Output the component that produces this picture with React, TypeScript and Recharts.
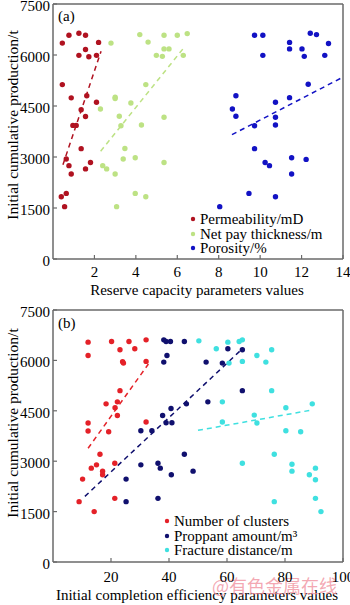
import React from 'react';
import { ScatterChart, Scatter, XAxis, YAxis, ReferenceLine, Legend } from 'recharts';

const FONT = '"Liberation Serif", "Times New Roman", serif';
const AXIS = '#6a6a6a';

// ---- Panel (a): reserve capacity parameters ----
const aXTicks = [2, 4, 6, 8, 10, 12, 14];
const yTicks = [0, 1500, 3000, 4500, 6000, 7500];

const permeability: [number, number][] = [
  [0.45, 6350], [0.77, 6580], [1.25, 6640], [1.57, 6580], [1.57, 6160], [1.25, 5990], [1.73, 5950],
  [2.1, 5990], [2.2, 6370], [0.45, 5130], [0.88, 4740], [1.63, 4800], [2.1, 4610], [1.36, 4390],
  [1.57, 4190], [0.96, 3930], [1.12, 3930], [1.36, 3245], [0.64, 2940], [0.77, 2745], [0.88, 2500],
  [1.57, 2650], [1.81, 2840], [0.4, 1830], [0.64, 1930], [0.56, 1540],
];
const netPay: [number, number][] = [
  [2.8, 6350], [4.19, 6600], [4.59, 6380], [5.36, 6580], [5.36, 6180], [5.6, 6180], [4.99, 5990],
  [5.28, 5960], [6.0, 6580], [6.48, 6630], [6.29, 5990], [3.0, 4760], [3.0, 4720], [2.29, 4410],
  [3.76, 4590], [4.48, 5130], [3.2, 4200], [3.28, 3920], [4.27, 3940], [5.36, 4170], [3.47, 3250],
  [3.39, 2940], [3.97, 2980], [5.36, 2840], [2.4, 2745], [2.59, 2650], [3.0, 2500], [3.97, 1930],
  [4.48, 1830], [3.07, 1540],
];
const porosity: [number, number][] = [
  [9.73, 6580], [10.13, 6580], [10.13, 5990], [11.42, 6370], [11.42, 6180], [12.02, 6180], [12.13, 5960],
  [12.42, 6640], [12.72, 6600], [13.3, 6340], [13.12, 5990], [12.32, 5140], [8.83, 4800], [11.42, 4745],
  [10.74, 4610], [8.66, 4410], [8.83, 4200], [10.74, 4170], [10.74, 3940], [9.73, 3920], [9.73, 3245],
  [10.24, 2840], [10.45, 2745], [11.52, 2980], [12.22, 2930], [11.52, 2500], [9.46, 1930], [10.74, 1830],
  [8.05, 1540],
];
const permTrend: [number, number][] = [[0.48, 2775], [2.32, 6108]];
const netPayTrend: [number, number][] = [[2.3, 3170], [6.3, 6200]];
const porosityTrend: [number, number][] = [[8.64, 3657], [14, 5350]];

// ---- Panel (b): completion efficiency parameters ----
const bXTicks = [20, 40, 60, 80, 100];
const clusters: [number, number][] = [
  [12.1, 6543], [12.1, 6148], [20.2, 6563], [23.1, 6316], [26.2, 6563], [28.2, 6345], [32.1, 6612],
  [32.1, 5970], [24.0, 5960], [24.3, 5920], [23.1, 5100], [18.3, 4707], [22.2, 4767], [21.4, 4590],
  [22.2, 4362], [12.1, 4135], [12.1, 3898], [19.2, 3878], [32.1, 4165], [16.2, 3207], [15.0, 2892],
  [13.2, 2793], [17.1, 2704], [17.1, 2595], [21.3, 2941], [10.2, 2467], [9.0, 1796], [21.3, 1895],
  [14.2, 1500],
];
const proppant: [number, number][] = [
  [38.2, 6612], [39.0, 6563], [40.5, 6563], [39.3, 6148], [38.2, 5950], [40.7, 4570], [37.8, 4362],
  [39.0, 4145], [41.0, 4145], [34.1, 3908], [30.3, 3908], [30.3, 2892], [36.2, 2941], [37.0, 2793],
  [40.8, 2595], [25.2, 2467], [25.2, 1796], [36.2, 1895], [45.3, 6563], [60.3, 6345], [65.3, 6316],
  [52.8, 5950], [58.4, 5920], [65.3, 5100], [46.0, 4707], [53.4, 4767], [45.3, 3207], [48.3, 2704],
];
const fracture: [number, number][] = [
  [50.3, 6582], [56.3, 6345], [60.3, 6543], [64.2, 6563], [65.3, 6612], [75.4, 6316], [70.3, 6148],
  [73.4, 5950], [65.3, 5970], [60.7, 5920], [58.4, 4767], [75.4, 5100], [69.4, 4372], [70.3, 4135],
  [58.4, 4165], [80.3, 4590], [89.4, 4707], [80.3, 3908], [85.4, 3878], [76.3, 3207], [65.3, 2941],
  [82.4, 2911], [82.4, 2704], [90.5, 2793], [88.4, 2595], [90.5, 2447], [90.5, 1895], [76.3, 1796],
  [92.4, 1500],
];
const clustersTrend: [number, number][] = [[12.1, 3385], [32.9, 5892]];
const proppantTrend: [number, number][] = [[11, 1954], [65.3, 6345]];
const fractureTrend: [number, number][] = [[50, 3918], [88.4, 4510]];

const seriesA = [
  { name: 'Permeability/mD', color: '#b01220', data: permeability, trend: permTrend },
  { name: 'Net pay thickness/m', color: '#bde284', data: netPay, trend: netPayTrend },
  { name: 'Porosity/%', color: '#1212c4', data: porosity, trend: porosityTrend },
];
const seriesB = [
  { name: 'Number of clusters', color: '#e42128', data: clusters, trend: clustersTrend },
  { name: 'Proppant amount/m³', color: '#10106e', data: proppant, trend: proppantTrend },
  { name: 'Fracture distance/m', color: '#3fe0e0', data: fracture, trend: fractureTrend },
];

const toPts = (a: [number, number][]) => a.map(([x, y]) => ({ x, y }));

const dot = (color: string) => (p: any) => <circle cx={p.cx} cy={p.cy} r={2.7} fill={color} />;

const legendContent = (items: { name: string; color: string }[]) => () => (
  <div style={{ fontFamily: FONT, fontSize: 15, color: '#000' }}>
    {items.map((it) => (
      <div
        key={it.name}
        style={{ display: 'flex', alignItems: 'center', height: 14.5, lineHeight: '14.5px', whiteSpace: 'nowrap' }}
      >
        <svg width={10} height={10} style={{ marginRight: 2 }}>
          <circle cx={5} cy={5} r={2.2} fill={it.color} />
        </svg>
        <span>{it.name}</span>
      </div>
    ))}
  </div>
);

const yTitle = (cy: number, tag: string, tagY: number) => () => (
  <g>
    <text
      x={12}
      y={cy}
      transform={`rotate(-90, 12, ${cy})`}
      textAnchor="middle"
      dominantBaseline="central"
      fontFamily={FONT}
      fontSize={15.5}
      fill="#000"
    >
      Initial cumulative production/t
    </text>
    <text x={58} y={tagY} fontFamily={FONT} fontSize={15} fill="#000">
      {tag}
    </text>
  </g>
);

const xTitleA = () => (
  <text x={197} y={295} textAnchor="middle" fontFamily={FONT} fontSize={15} fill="#000">
    Reserve capacity parameters values
  </text>
);
const xTitleB = () => (
  <g>
    <text x={197} y={300} textAnchor="middle" fontFamily={FONT} fontSize={15} fill="#000">
      Initial completion efficiency parameters values
    </text>
    <text
      x={212}
      y={293}
      fontFamily='"Noto Sans CJK SC", sans-serif'
      fontSize={18}
      fill="#f08c9a"
      fillOpacity={0.75}
    >
      @有色金属在线
    </text>
  </g>
);

const tickStyle = { fontFamily: FONT, fontSize: 15, fill: '#000' };

const yTick = (p: any) => (
  <text
    x={p.x}
    y={p.y + 2}
    textAnchor="end"
    dominantBaseline="central"
    fontFamily={FONT}
    fontSize={15}
    fill="#000"
  >
    {p.payload.value}
  </text>
);

function Panel(props: {
  height: number;
  top: number;
  plotH: number;
  xDomain: [number, number];
  xTicks: number[];
  series: typeof seriesA;
  xTitle: () => React.ReactElement;
  yTitleFn: () => React.ReactElement;
  xTickMargin: number;
  legendLeft: number;
  legendTop: number;
}) {
  const { height, top, plotH, xDomain, xTicks, series, xTitle, yTitleFn, xTickMargin, legendLeft, legendTop } = props;
  return (
    <ScatterChart width={350} height={height} margin={{ top, right: 7, bottom: 0, left: 0 }}>
      <XAxis
        type="number"
        dataKey="x"
        domain={xDomain}
        ticks={xTicks}
        allowDataOverflow
        height={height - top - plotH}
        axisLine={{ stroke: AXIS, strokeWidth: 1.5 }}
        tickLine={{ stroke: AXIS, strokeWidth: 1.2 }}
        tickSize={-4}
        tickMargin={xTickMargin}
        tick={tickStyle}
        label={xTitle}
        interval={0}
      />
      <YAxis
        type="number"
        dataKey="y"
        domain={[0, 7500]}
        ticks={yTicks}
        allowDataOverflow
        width={53}
        axisLine={{ stroke: AXIS, strokeWidth: 1.5 }}
        tickLine={{ stroke: AXIS, strokeWidth: 1.2 }}
        tickSize={-4}
        tickMargin={7}
        tick={yTick}
        label={yTitleFn}
        interval={0}
      />
      <ReferenceLine y={7500} stroke={AXIS} strokeWidth={1.5} ifOverflow="visible" />
      <ReferenceLine x={xDomain[1]} stroke={AXIS} strokeWidth={1.5} ifOverflow="visible" />
      {series.map((s) => (
        <ReferenceLine
          key={s.name + '-trend'}
          segment={toPts(s.trend)}
          stroke={s.color}
          strokeWidth={1.5}
          strokeDasharray="5 4"
          ifOverflow="visible"
        />
      ))}
      {series.map((s) => (
        <Scatter
          key={s.name}
          name={s.name}
          data={toPts(s.data)}
          fill={s.color}
          shape={dot(s.color)}
          isAnimationActive={false}
        />
      ))}
      <Legend
        layout="vertical"
        align="center"
        verticalAlign="middle"
        wrapperStyle={{ left: legendLeft, top: legendTop, width: 'auto' }}
        content={legendContent(series)}
      />
    </ScatterChart>
  );
}

export default function App() {
  return (
    <div style={{ position: 'absolute', left: 0, top: 0, width: 350, height: 605, background: '#fff' }}>
      <Panel
        height={300}
        top={4}
        plotH={255}
        xDomain={[0, 14]}
        xTicks={aXTicks}
        series={seriesA}
        xTitle={xTitleA}
        yTitleFn={yTitle(125, '(a)', 20.5)}
        xTickMargin={11}
        legendLeft={188}
        legendTop={212}
      />
      <Panel
        height={305}
        top={10}
        plotH={252}
        xDomain={[0, 100]}
        xTicks={bXTicks}
        series={seriesB}
        xTitle={xTitleB}
        yTitleFn={yTitle(123, '(b)', 28)}
        xTickMargin={13}
        legendLeft={162}
        legendTop={214}
      />
    </div>
  );
}
